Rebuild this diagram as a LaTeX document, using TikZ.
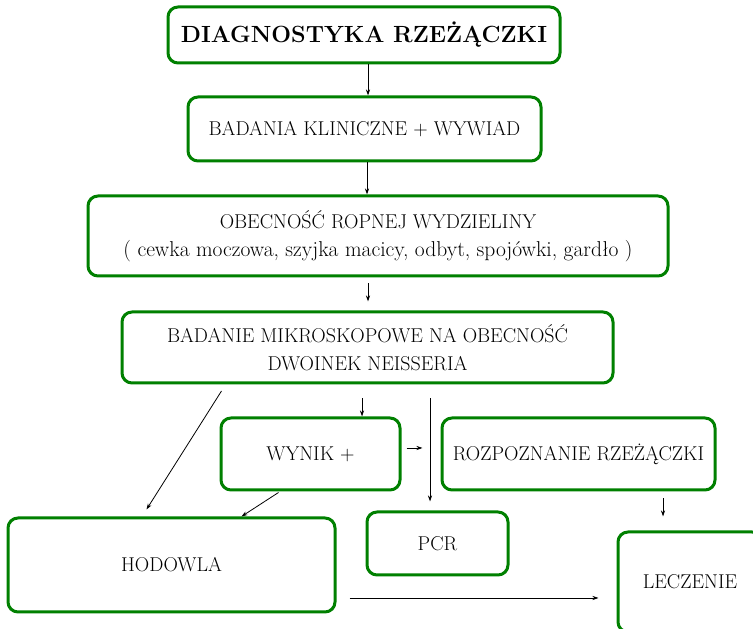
\documentclass[tikz,border=0pt]{standalone}
\usetikzlibrary{arrows.meta,calc}
\definecolor{boxgreen}{RGB}{0,128,0}
\tikzset{
  box/.style={draw=boxgreen, line width=3pt, rounded corners=10pt, fill=white,
    align=center, inner sep=0pt, font=\fontsize{20}{28}\selectfont},
  arr/.style={-{Stealth[length=6pt,width=4pt]}, line width=0.8pt}
}
\begin{document}
\begin{tikzpicture}[scale=1.000000,x=1pt,y=1pt]
\useasboundingbox (0.000000,0.000000) rectangle (753.000000,629.000000);
\filldraw[color=white] (0.000000,0.000000) rectangle (753.000000,629.000000);
\clip (0.000000,0.000000) rectangle (753.000000,629.000000);
% Drawing boxes
\node[box, minimum width=392pt, minimum height=56pt, font=\bfseries\fontsize{23.4}{28}\selectfont] (title) at (364.000000,594.000000) {DIAGNOSTYKA RZEŻĄCZKI};
\node[box, minimum width=353pt, minimum height=64pt] (klin) at (364.500000,500.000000) {BADANIA KLINICZNE + WYWIAD};
\node[box, minimum width=580pt, minimum height=80pt] (obec) at (378.000000,393.000000) {OBECNOŚĆ ROPNEJ WYDZIELINY\\{\fontsize{21.5}{28}\selectfont ( cewka moczowa, szyjka macicy, odbyt, spojówki, gardło )}};
\node[box, minimum width=491pt, minimum height=71pt] (mikro) at (367.500000,281.500000) {BADANIE MIKROSKOPOWE NA OBECNOŚĆ\\DWOINEK NEISSERIA};
\node[box, minimum width=179pt, minimum height=72pt] (wynik) at (310.500000,175.000000) {WYNIK +};
\node[box, minimum width=273pt, minimum height=72pt] (rozp) at (578.500000,175.000000) {ROZPOZNANIE RZEŻĄCZKI};
\node[box, minimum width=327pt, minimum height=94pt] (hodowla) at (171.500000,64.000000) {HODOWLA};
\node[box, minimum width=141pt, minimum height=63pt] (pcr) at (437.500000,85.500000) {PCR};
\node[box, minimum width=144pt, minimum height=100pt] (lecz) at (690.000000,47.000000) {LECZENIE};
% Done with boxes; drawing arrows
\draw[arr] ([xshift=4pt]title.south) -- ([xshift=3.5pt]klin.north);
\draw[arr] ([xshift=2.5pt]klin.south) -- ([xshift=2.5pt]klin.south |- obec.north);
\draw[arr, shorten <=6pt, shorten >=9pt] ([xshift=-10pt]obec.south) -- ([xshift=-10pt]obec.south |- mikro.north);
\draw[arr, shorten <=14pt] ([xshift=51.5pt]wynik.north |- mikro.south) -- ([xshift=51.5pt]wynik.north);
\draw[arr, shorten <=14pt, shorten >=9pt] ([xshift=-7.5pt]pcr.north |- mikro.south) -- ([xshift=-7.5pt]pcr.north);
\draw[arr, shorten <=5pt, shorten >=18pt] ([yshift=6pt]wynik.east) -- ([yshift=6pt]wynik.east -| rozp.west);
\draw[arr] ($(mikro.south west)+(101,-6.5)$) -- ($(hodowla.north west)+(140,7)$);
\draw[arr] ($(wynik.south west)+(59,-1)$) -- ($(hodowla.north west)+(235,0)$);
\draw[arr, shorten <=7pt, shorten >=14pt] ([xshift=84.5pt]rozp.south) -- ([xshift=84.5pt]rozp.south |- lecz.north);
\draw[arr, shorten <=13pt, shorten >=18pt] ([yshift=-33pt]hodowla.east) -- ([yshift=-33pt]hodowla.east -| lecz.west);
% Done with arrows
\end{tikzpicture}
\end{document}
